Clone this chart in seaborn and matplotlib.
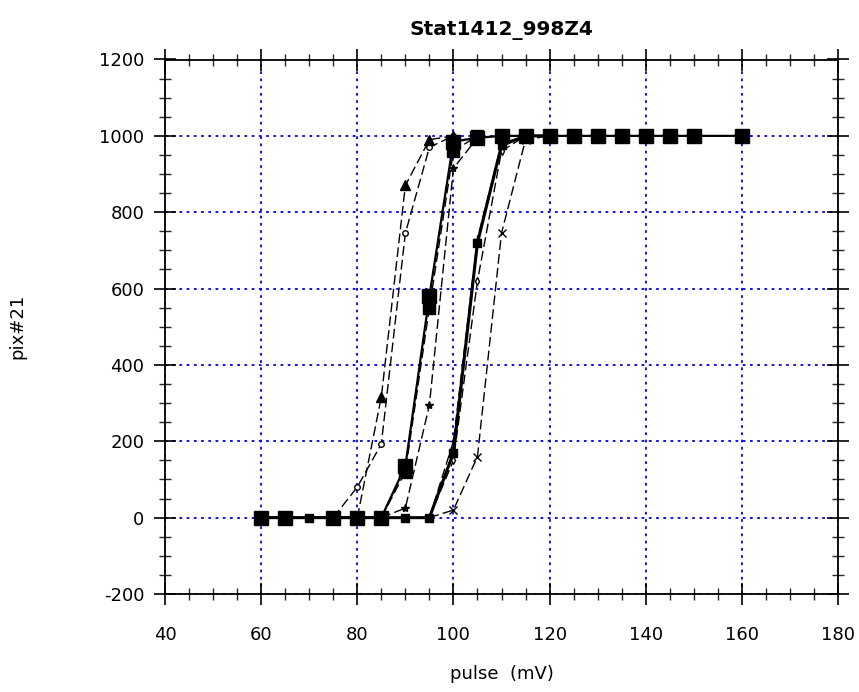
import matplotlib
matplotlib.use("Agg")
import matplotlib.pyplot as plt
from matplotlib.ticker import MultipleLocator
import seaborn as sns
import pandas as pd

# ---- data ----
title = "Stat1412_998Z4"
x_label = "pulse  (mV)"
y_label = "pix#21"

x_main = [60, 65, 75, 80, 85, 90, 95, 100, 105, 110, 115, 120, 125, 130, 135, 140, 145, 150, 160]
y_main = [0, 0, 0, 0, 0, 135, 580, 985, 995, 1000, 1000, 1000, 1000, 1000, 1000, 1000, 1000, 1000, 1000]

x_thick = [60, 65, 70, 75, 80, 85, 90, 95, 100, 105, 110, 115, 120]
y_thick = [0, 0, 0, 0, 0, 0, 0, 0, 170, 720, 975, 1000, 1000]

x_sq2 = [85, 90, 95, 100, 105]
y_sq2 = [0, 120, 550, 960, 1000]

x_star = [85, 90, 95, 100, 105, 110]
y_star = [0, 25, 295, 915, 995, 1000]

x_tri = [80, 85, 90, 95, 100]
y_tri = [0, 316, 870, 990, 1000]

x_circ = [75, 80, 85, 90, 95, 100]
y_circ = [0, 80, 193, 745, 970, 1000]

x_dia = [95, 100, 105, 110, 115]
y_dia = [0, 150, 620, 960, 1000]

x_plus = [95, 100, 105, 110, 115]
y_plus = [0, 200, 730, 980, 1000]

x_cross = [95, 100, 105, 110, 115, 120]
y_cross = [0, 20, 160, 745, 990, 1000]

# ---- style ----
sns.set_style("white")
plt.rcParams["font.family"] = ["DejaVu Sans"]
plt.rcParams["axes.unicode_minus"] = False
plt.rcParams["text.color"] = "black"
plt.rcParams["axes.labelcolor"] = "black"

fig = plt.figure(figsize=(8.59, 6.92), dpi=100)
ax = fig.add_axes([165 / 859, 1 - 594 / 692, (838 - 165) / 859, (594 - 59.5) / 692])

series = [
    (x_circ, y_circ, "--", 1.0, "o", 4, "white"),
    (x_tri, y_tri, "--", 1.0, "^", 7, "black"),
    (x_star, y_star, "--", 1.0, "*", 6, "black"),
    (x_sq2, y_sq2, "--", 1.0, "s", 8, "black"),
    (x_dia, y_dia, "--", 1.0, "d", 4, "white"),
    (x_plus, y_plus, "--", 1.0, "+", 6, "black"),
    (x_cross, y_cross, "--", 1.0, "x", 6, "black"),
    (x_thick, y_thick, "-", 2.2, "s", 6, "black"),
    (x_main, y_main, "-", 1.6, "s", 10, "black"),
]

for xs, ys, ls, lw, mk, ms, mfc in series:
    df = pd.DataFrame({"x": xs, "y": ys})
    sns.lineplot(data=df, x="x", y="y", ax=ax, color="black", linestyle=ls,
                 linewidth=lw, marker=mk, markersize=ms, markerfacecolor=mfc,
                 markeredgecolor="black", markeredgewidth=1.0,
                 estimator=None, sort=False, zorder=3)
    if ls == "--":
        ax.lines[-1].set_dashes((7, 3))

ax.set_xlim(40, 180)
ax.set_ylim(-200, 1200)
ax.xaxis.set_major_locator(MultipleLocator(20))
ax.xaxis.set_minor_locator(MultipleLocator(5))
ax.yaxis.set_major_locator(MultipleLocator(200))
ax.yaxis.set_minor_locator(MultipleLocator(50))

ax.grid(True, which="major", color="#0000ee", linestyle=(0, (1.5, 2.5)), linewidth=1.3)
ax.set_axisbelow(True)

for sp in ax.spines.values():
    sp.set_color("black")
    sp.set_linewidth(1.3)
    sp.set_visible(True)

ax.tick_params(which="major", direction="inout", length=16, width=1.2,
               top=True, right=True, bottom=True, left=True,
               labelsize=13, colors="black")
ax.tick_params(axis="x", which="major", pad=15)
ax.tick_params(axis="y", which="major", pad=7)
ax.tick_params(which="minor", direction="inout", length=8, width=1.0,
               top=True, right=True, bottom=True, left=True)

ax.set_xlabel(x_label, fontsize=13, labelpad=15, color="black")
ax.set_ylabel(y_label, fontsize=13, labelpad=52, color="black")
ax.set_title(title, fontsize=14.5, fontweight="bold", pad=18, color="black")

fig.savefig("out.png", dpi=100)
